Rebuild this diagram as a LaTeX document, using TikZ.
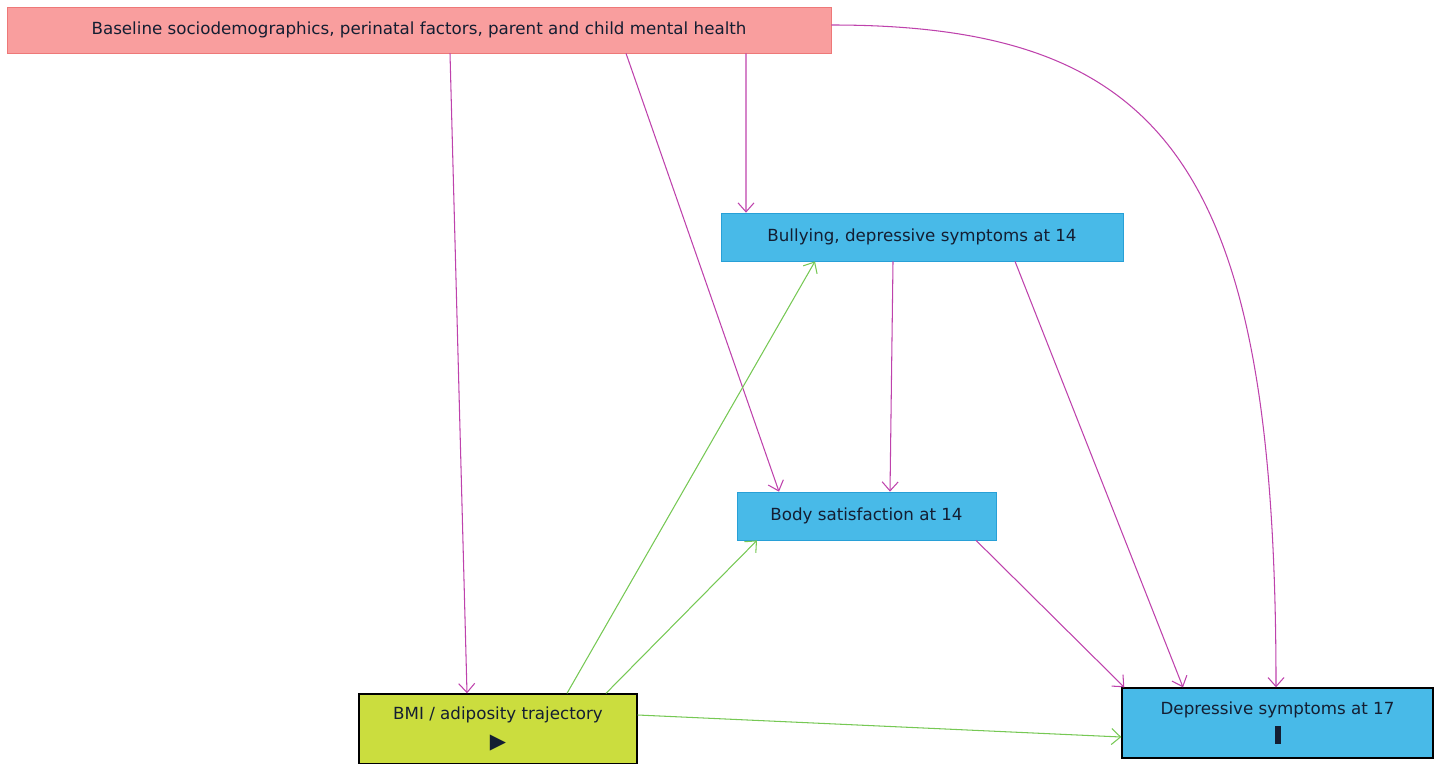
\documentclass[tikz,border=0pt]{standalone}
\usepackage{fontspec}
\setmainfont{DejaVu Sans}
\usepackage{tikz}
\usetikzlibrary{arrows.meta,positioning}
\definecolor{dagpink}{RGB}{249,158,158}
\definecolor{dagpinkline}{RGB}{238,120,120}
\definecolor{dagblue}{RGB}{72,186,232}
\definecolor{dagblueline}{RGB}{40,160,215}
\definecolor{daglime}{RGB}{203,221,62}
\definecolor{dagmagenta}{RGB}{190,66,172}
\definecolor{daggreen}{RGB}{118,200,84}
\definecolor{dagtext}{RGB}{20,30,50}

\begin{document}
\begin{tikzpicture}[
  x=0.2mm,y=-0.2mm,
  every node/.style={font=\fontsize{9.5}{16.5}\selectfont,text=dagtext,inner sep=0pt},
  basebox/.style={draw=dagpinkline,fill=dagpink,minimum width=164.8mm,minimum height=9.2mm},
  midbox/.style={draw=dagblueline,fill=dagblue,minimum height=9.6mm},
  bmibox/.style={draw=black,fill=daglime,minimum width=55.6mm,minimum height=14mm,align=center,line width=0.8pt},
  outbox/.style={draw=black,fill=dagblue,minimum width=62.2mm,minimum height=14mm,align=center,line width=0.8pt},
  arr/.style={->,>={Straight Barb[length=1.8mm,width=3.2mm]},line width=0.6pt},
  conf/.style={arr,dagmagenta},
  expo/.style={arr,daggreen}
]
\useasboundingbox (0,0) rectangle (1440,763);

% Boxes
\node[basebox] (base) at (419,30) {Baseline sociodemographics, perinatal factors, parent and child mental health};
\node[midbox,minimum width=80.4mm] (bully) at (922,237) {Bullying, depressive symptoms at 14};
\node[midbox,minimum width=51.8mm] (body) at (866.5,516) {Body satisfaction at 14};
\node[bmibox] (bmi) at (498,729) {BMI / adiposity trajectory\\{\fontsize{12}{12}\selectfont ▶}};
\node[outbox] (dep) at (1277.5,723) {Depressive symptoms at 17\\\rule{1.2mm}{3.6mm}};

% Confounders
\draw[conf] ([xshift=6.2mm]base.south) -- ([xshift=-6.2mm]bmi.north);
\draw[conf] ([xshift=41.4mm]base.south) -- ([xshift=-17.5mm]body.north);
\draw[conf] ([xshift=65.4mm]base.south) -- ([xshift=-35.2mm]bully.north);
\draw[conf] ([yshift=1mm]base.east) .. controls (1170,25) and (1276,170) .. ([xshift=-0.3mm]dep.north);

% Mediators
\draw[conf] ([xshift=-5.8mm]bully.south) -- ([xshift=4.7mm]body.north);
\draw[conf] ([xshift=18.6mm]bully.south) -- ([xshift=-18.9mm]dep.north);
\draw[conf] ([xshift=21.9mm]body.south) -- ([xshift=0.6mm]dep.north west);

% Exposure
\draw[expo] ([xshift=13.8mm]bmi.north) -- ([xshift=-21.4mm]bully.south);
\draw[expo] ([xshift=21.6mm]bmi.north) -- ([xshift=-21.9mm]body.south);
\draw[expo] ([yshift=2.8mm]bmi.east) -- ([yshift=-2.8mm]dep.west);
\end{tikzpicture}
\end{document}
